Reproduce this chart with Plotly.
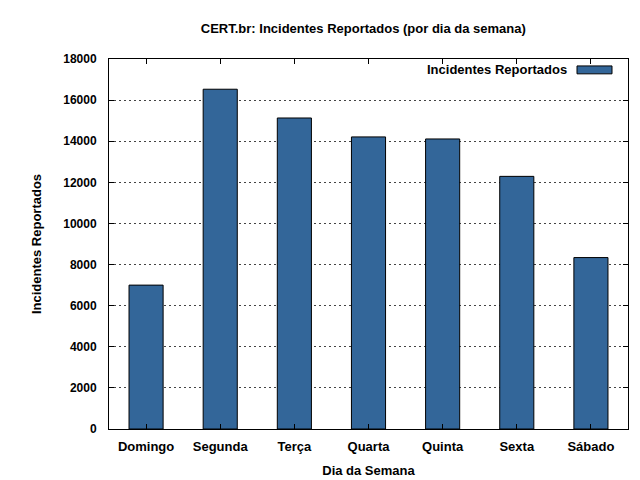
import plotly.graph_objects as go

days = ["Domingo", "Segunda", "Terça", "Quarta", "Quinta", "Sexta", "Sábado"]
incidents = [7000, 16530, 15130, 14210, 14110, 12290, 8340]
y_ticks = [0, 2000, 4000, 6000, 8000, 10000, 12000, 14000, 16000, 18000]

FONT = "Liberation Sans, Arial, sans-serif"
BAR_COLOR = "#336699"

fig = go.Figure()
fig.add_trace(go.Bar(
    x=days, y=incidents, name="Incidentes Reportados",
    width=0.46,
    marker=dict(color=BAR_COLOR, line=dict(color="black", width=1)),
    showlegend=False,
))

fig.update_layout(
    width=640, height=480,
    margin=dict(l=101, r=20, t=51, b=55),
    paper_bgcolor="white", plot_bgcolor="white",
    font=dict(family=FONT, size=13, color="black"),
    title=dict(text="<b>CERT.br: Incidentes Reportados (por dia da semana)</b>",
               xref="paper", x=0.49, xanchor="center",
               yref="container", y=1-20/480, yanchor="middle",
               font=dict(size=13)),
)
fig.update_xaxes(
    range=[-0.5, 6.5], showline=True, linecolor="black", linewidth=1,
    mirror="ticks", ticks="inside", ticklen=5, tickcolor="black",
    showgrid=False,
    tickfont=dict(size=13, family=FONT),
    tickvals=days, ticktext=[f"<b>{d}</b>" for d in days],
    ticklabelstandoff=5,
    title=dict(text="<b>Dia da Semana</b>", standoff=13, font=dict(size=13)),
)
fig.update_yaxes(
    range=[0, 18000], showline=True, linecolor="black", linewidth=1,
    mirror="ticks", ticks="inside", ticklen=5, tickcolor="black",
    tickvals=y_ticks, ticktext=[f"<b>{v}</b>" for v in y_ticks],
    showgrid=True, gridcolor="#444444", griddash="2px,3px", gridwidth=1,
    zeroline=False,
    tickfont=dict(size=12, family=FONT),
    ticklabelstandoff=9,
    title=dict(text="<b>Incidentes Reportados</b>", standoff=18, font=dict(size=13)),
)

# Legend (gnuplot style: text, then key box on the right)
fig.add_annotation(x=(561-101)/519, y=(425-62)/374, xref="paper", yref="paper",
                   text="<b>Incidentes Reportados</b>", showarrow=False,
                   xanchor="right", yanchor="middle", font=dict(size=13))
fig.add_shape(type="rect", xref="paper", yref="paper",
              x0=(569-101)/519, x1=(604-101)/519,
              y0=(425-66)/374, y1=(425-58)/374,
              fillcolor=BAR_COLOR, line=dict(color="black", width=1))

fig.write_html("out.html")
